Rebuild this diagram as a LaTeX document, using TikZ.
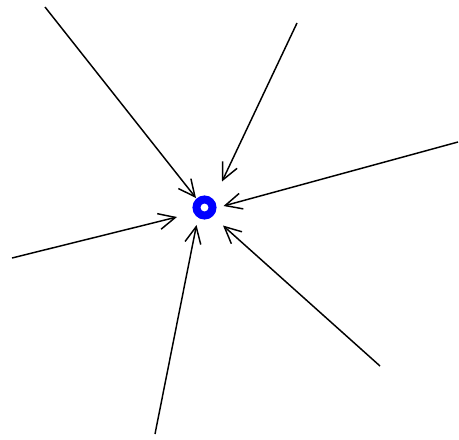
\documentclass[tikz,border=0pt]{standalone}
\usepackage{tikz}
\usetikzlibrary{arrows.meta}

\tikzset{
  inflow/.style={line width=1.1pt, -{Straight Barb[length=12.5pt,width=12pt,line width=1.1pt]}},
  sink/.style={circle, draw=blue, line width=6pt, minimum size=12pt, inner sep=0pt}
}

\begin{document}
\begin{tikzpicture}[x=0.75pt, y=-0.75pt]
\useasboundingbox (0,0) rectangle (459,439);

\node[sink] (hub) at (204.5,207.5) {};

\coordinate (nw) at (45,7);
\coordinate (n) at (297,23);
\coordinate (e) at (458,142);
\coordinate (w) at (12,258);
\coordinate (s) at (155,434);
\coordinate (se) at (380,366);

\coordinate (nwtip) at (196,198);
\coordinate (ntip) at (222,181.5);
\coordinate (etip) at (223.5,206);
\coordinate (wtip) at (177,217);
\coordinate (stip) at (196.5,225);
\coordinate (setip) at (223,225.5);

\draw[inflow] (nw) -- (nwtip);
\draw[inflow] (n) -- (ntip);
\draw[inflow] (e) -- (etip);
\draw[inflow] (w) -- (wtip);
\draw[inflow] (s) -- (stip);
\draw[inflow] (se) -- (setip);

\end{tikzpicture}
\end{document}
